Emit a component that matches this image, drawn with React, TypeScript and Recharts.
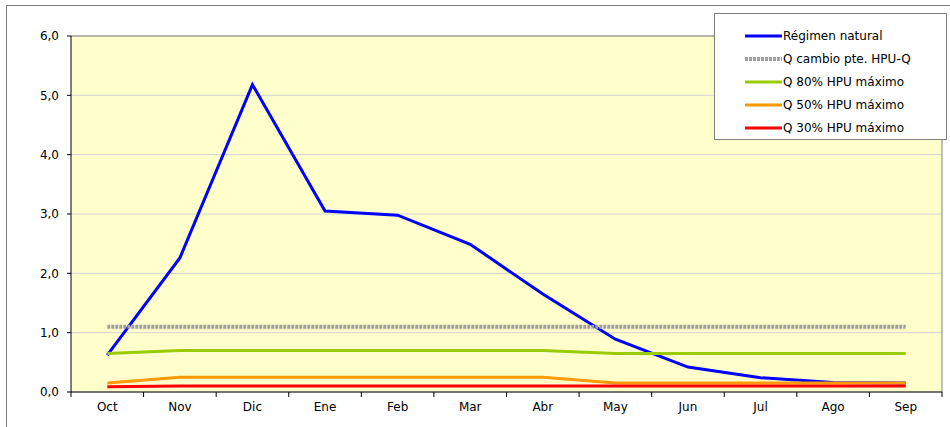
import React from "react";
import {
  CartesianGrid,
  Line,
  LineChart,
  ReferenceLine,
  XAxis,
  YAxis,
} from "recharts";

const months = ["Oct", "Nov", "Dic", "Ene", "Feb", "Mar", "Abr", "May", "Jun", "Jul", "Ago", "Sep"];
const regimenNatural = [0.62, 2.26, 5.18, 3.05, 2.98, 2.49, 1.65, 0.89, 0.42, 0.24, 0.16, 0.15];
const qCambio = [1.1, 1.1, 1.1, 1.1, 1.1, 1.1, 1.1, 1.1, 1.1, 1.1, 1.1, 1.1];
const q80 = [0.65, 0.7, 0.7, 0.7, 0.7, 0.7, 0.7, 0.65, 0.65, 0.65, 0.65, 0.65];
const q50 = [0.15, 0.25, 0.25, 0.25, 0.25, 0.25, 0.25, 0.15, 0.15, 0.15, 0.15, 0.15];
const q30 = [0.09, 0.1, 0.1, 0.1, 0.1, 0.1, 0.1, 0.1, 0.1, 0.1, 0.1, 0.1];
const yTicks = [0, 1, 2, 3, 4, 5, 6];
const xTicks = [0, 1, 2, 3, 4, 5, 6, 7, 8, 9, 10, 11, 12];

const series = [
  { key: "natural", name: "Régimen natural", color: "#0000FF", width: 3, dash: undefined },
  { key: "cambio", name: "Q cambio pte. HPU-Q", color: "#A0A0A0", width: 4, dash: "3 1" },
  { key: "q80", name: "Q 80% HPU máximo", color: "#99CC00", width: 3, dash: undefined },
  { key: "q50", name: "Q 50% HPU máximo", color: "#FF9900", width: 3, dash: undefined },
  { key: "q30", name: "Q 30% HPU máximo", color: "#FF0000", width: 3, dash: undefined },
];

const data = months.map((m, i) => ({
  x: i + 0.5,
  label: m,
  natural: regimenNatural[i],
  cambio: qCambio[i],
  q80: q80[i],
  q50: q50[i],
  q30: q30[i],
}));

const W = 950;
const H = 427;
const M = { top: 36, right: 8, left: 26, bottom: 5 };
const Y_W = 45;
const plotW = W - M.left - M.right - Y_W;
const band = plotW / months.length;
const font = "'DejaVu Sans', Verdana, sans-serif";

const MonthTick = (props: any) => {
  const { x, y, payload } = props;
  const i = payload.value;
  if (i >= months.length) return null;
  return (
    <text x={x + band / 2} y={y + 12} textAnchor="middle" fontSize={12} fill="#000" fontFamily={font}>
      {months[i]}
    </text>
  );
};

const LegendBox = () => (
  <div
    style={{
      position: "absolute",
      left: 714,
      top: 13,
      width: 233,
      height: 127,
      border: "1px solid #808080",
      background: "#fff",
      boxSizing: "border-box",
      paddingTop: 10,
      fontFamily: font,
      fontSize: 12,
    }}
  >
    {series.map((s) => (
      <div key={s.key} style={{ display: "flex", alignItems: "center", height: 23 }}>
        <svg width={68} height={8} style={{ flex: "none" }}>
          <line x1={30} x2={67} y1={4} y2={4} stroke={s.color} strokeWidth={s.width} strokeDasharray={s.dash} />
        </svg>
        <span style={{ whiteSpace: "nowrap" }}>{s.name}</span>
      </div>
    ))}
  </div>
);

export default function App() {
  return (
    <div style={{ position: "absolute", left: 0, top: 0, width: W, height: H, background: "#fff", overflow: "hidden" }}>
      <div
        style={{
          position: "absolute",
          left: 6,
          top: 5,
          width: 950,
          height: 430,
          border: "1px solid #808080",
          boxSizing: "border-box",
        }}
      />
      <div style={{ position: "absolute", left: 0, top: 0 }}>
        <LineChart width={W} height={H} data={data} margin={M}>
          <CartesianGrid vertical={false} stroke="#D4D4D4" fill="#FFFFCC" fillOpacity={1} />
          <XAxis
            dataKey="x"
            type="number"
            domain={[0, 12]}
            ticks={xTicks}
            interval={0}
            tick={<MonthTick />}
            tickSize={5}
            stroke="#000"
            height={30}
          />
          <YAxis
            type="number"
            domain={[0, 6]}
            ticks={yTicks}
            interval={0}
            width={Y_W}
            tickSize={4}
            tickMargin={8}
            stroke="#000"
            tick={{ fill: "#000", fontSize: 12, fontFamily: font }}
            tickFormatter={(v: number) => v.toFixed(1).replace(".", ",")}
          />
          <ReferenceLine y={6} stroke="#808080" />
          <ReferenceLine x={12} stroke="#808080" />
          {series.map((s) => (
            <Line
              key={s.key}
              dataKey={s.key}
              name={s.name}
              stroke={s.color}
              strokeWidth={s.width}
              strokeDasharray={s.dash}
              dot={false}
              activeDot={false}
              type="linear"
              isAnimationActive={false}
            />
          ))}
        </LineChart>
      </div>
      <LegendBox />
    </div>
  );
}
